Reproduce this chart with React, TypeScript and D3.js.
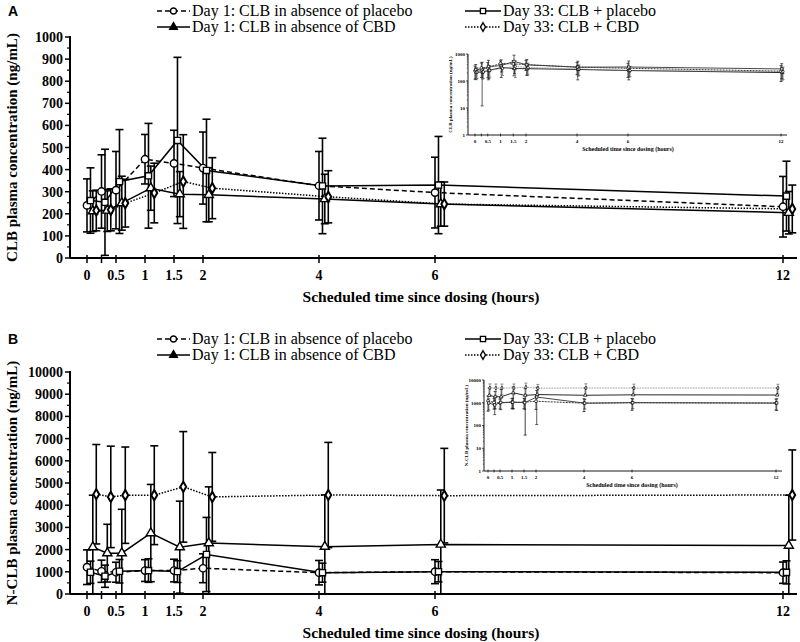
import React from 'react'
import * as d3 from 'd3'

// scheduled sampling times (hours)
const times = [0, 0.25, 0.5, 1, 1.5, 2, 4, 6, 12]
const tickLabels = ['0', '', '0.5', '1', '1.5', '2', '4', '6', '12']
const seriesNames = [
  'Day 1: CLB in absence of placebo',
  'Day 33: CLB + placebo',
  'Day 1: CLB in absence of CBD',
  'Day 33: CLB + CBD',
]
// small horizontal jitter of each series at a time point (hours)
const dodge = [0, 0.06, 0.1, 0.16]

// panel A: CLB (ng/mL), mean and SD
const clbD1Placebo = [238, 301, 307, 447, 428, 407, 327, 296, 232]
const clbD1PlaceboSd = [120, 166, 175, 112, 150, 163, 155, 160, 137]
const clbD33Placebo = [260, 252, 346, 372, 532, 396, 326, 330, 280]
const clbD33PlaceboSd = [148, 240, 235, 237, 376, 232, 216, 220, 158]
const clbD1Cbd = [212, 215, 248, 316, 289, 286, 267, 244, 205]
const clbD1CbdSd = [92, 95, 122, 100, 102, 122, 112, 100, 96]
const clbD33Cbd = [215, 218, 248, 294, 346, 316, 277, 244, 222]
const clbD33CbdSd = [92, 95, 108, 135, 212, 138, 118, 100, 108]

// panel B: N-CLB (ng/mL), mean and SD
const nclbD1Placebo = [1207, 1025, 980, 1056, 1056, 1160, 960, 1005, 960]
const nclbD1PlaceboSd = [780, 500, 450, 490, 510, 650, 550, 540, 480]
const nclbD33Placebo = [980, 800, 1025, 1056, 1010, 1780, 960, 1005, 975]
const nclbD33PlaceboSd = [500, 500, 530, 530, 490, 1670, 430, 460, 520]
const nclbD1Cbd = [2110, 1840, 1840, 2745, 2110, 2293, 2131, 2230, 2180]
const nclbD1CbdSd = [2340, 1300, 1975, 2190, 2072, 2533, 2330, 2455, 2270]
const nclbD33Cbd = [4494, 4374, 4450, 4450, 4826, 4374, 4459, 4430, 4459]
const nclbD33CbdSd = [2240, 2285, 2170, 2225, 2490, 2000, 2370, 2130, 2030]

const clbMeans = [clbD1Placebo, clbD33Placebo, clbD1Cbd, clbD33Cbd]
const clbSds = [clbD1PlaceboSd, clbD33PlaceboSd, clbD1CbdSd, clbD33CbdSd]
const nclbMeans = [nclbD1Placebo, nclbD33Placebo, nclbD1Cbd, nclbD33Cbd]
const nclbSds = [nclbD1PlaceboSd, nclbD33PlaceboSd, nclbD1CbdSd, nclbD33CbdSd]

const dashes = ['5,3', null, null, '1.5,1.5']
const symbols = [d3.symbolCircle, d3.symbolSquare, d3.symbolTriangle, d3.symbolDiamond]
const symbolSizes = [42, 38, 36, 30]
const insetColors = ['#222', '#333', '#111', '#777']

const serif = '"Liberation Serif", "Times New Roman", serif'

function Legend({ y, label }) {
  const cols = [[157, 192], [465, 503]]
  return (
    <g>
      <text x={8} y={y + 5} fontFamily='"Liberation Sans", Arial, sans-serif' fontWeight="bold" fontSize={14}>{label}</text>
      {seriesNames.map((name, si) => {
        const col = cols[si % 2]
        const yy = y + Math.floor(si / 2) * 16
        const sym = d3.symbol().type(symbols[si]).size(symbolSizes[si] * 0.7)()
        return (
          <g key={name}>
            <line x1={col[0]} x2={col[1] - 2} y1={yy} y2={yy} stroke="#000" strokeWidth={1.6}
              strokeDasharray={dashes[si] || undefined} />
            <path d={sym} transform={`translate(${(col[0] + col[1] - 2) / 2},${yy})`}
              fill={si === 2 ? '#000' : '#fff'} stroke="#000" strokeWidth={1.4} />
            <text x={col[1]} y={yy + 5} fontFamily={serif} fontSize={16}>{name}</text>
          </g>
        )
      })}
    </g>
  )
}

function MainPanel({ means, sds, yMax, yStep, yTop, yBottom, title }) {
  const x = d3.scaleLinear().domain([0, 12]).range([87, 783])
  const y = d3.scaleLinear().domain([0, yMax]).range([yBottom, yTop])
  const axisX = 70
  const major = d3.range(0, yMax + 1, yStep)
  const minor = d3.range(yStep / 2, yMax, yStep)
  return (
    <g>
      {/* error bars */}
      {means.map((m, si) => m.map((v, j) => {
        const cx = x(times[j] + dodge[si])
        const lo = Math.max(0, v - sds[si][j])
        const hi = v + sds[si][j]
        return (
          <g key={`e${si}-${j}`} stroke="#000" strokeWidth={1.6}>
            <line x1={cx} x2={cx} y1={y(lo)} y2={y(hi)} />
            <line x1={cx - 4} x2={cx + 4} y1={y(hi)} y2={y(hi)} />
            {lo > 0 && <line x1={cx - 4} x2={cx + 4} y1={y(lo)} y2={y(lo)} />}
          </g>
        )
      }))}
      {/* lines */}
      {means.map((m, si) => {
        const line = d3.line().x((d, j) => x(times[j] + dodge[si])).y(d => y(d))
        return <path key={`l${si}`} d={line(m)} fill="none" stroke="#000" strokeWidth={1.5}
          strokeDasharray={dashes[si] || undefined} />
      })}
      {/* markers */}
      {means.map((m, si) => m.map((v, j) => (
        <path key={`m${si}-${j}`} d={d3.symbol().type(symbols[si]).size(symbolSizes[si])()}
          transform={`translate(${x(times[j] + dodge[si])},${y(v)})`}
          fill="#fff" stroke="#000" strokeWidth={si === 3 ? 2 : 1.4} />
      )))}
      {/* y axis */}
      <line x1={axisX} x2={axisX} y1={yTop - 1} y2={yBottom} stroke="#000" strokeWidth={2} />
      {major.map(t => (
        <g key={`yt${t}`}>
          <line x1={axisX - 5} x2={axisX} y1={y(t)} y2={y(t)} stroke="#000" strokeWidth={1.5} />
          <text x={63} y={y(t) + 5} textAnchor="end" fontFamily={serif} fontWeight="bold" fontSize={14}>{t}</text>
        </g>
      ))}
      {minor.map(t => (
        <line key={`ym${t}`} x1={axisX - 3} x2={axisX} y1={y(t)} y2={y(t)} stroke="#000" strokeWidth={1.2} />
      ))}
      <text transform={`translate(17,${(yTop + yBottom) / 2}) rotate(-90)`} textAnchor="middle"
        fontFamily={serif} fontWeight="bold" fontSize={15}>{title}</text>
      {/* x axis */}
      <line x1={axisX} x2={797} y1={yBottom} y2={yBottom} stroke="#000" strokeWidth={2} />
      {times.map((t, j) => (
        <g key={`xt${t}`}>
          <line x1={x(t)} x2={x(t)} y1={yBottom - 3} y2={yBottom + 5} stroke="#000" strokeWidth={1.5} />
          <text x={x(t)} y={yBottom + 22} textAnchor="middle" fontFamily={serif} fontWeight="bold" fontSize={14}>{tickLabels[j]}</text>
        </g>
      ))}
      <text x={421} y={yBottom + 44} textAnchor="middle" fontFamily={serif} fontWeight="bold" fontSize={15.5}>
        Scheduled time since dosing (hours)
      </text>
    </g>
  )
}

function Inset({ means, sds, decades, axisX, x0, x12, xEnd, yTop, yBottom, title }) {
  const x = d3.scaleLinear().domain([0, 12]).range([x0, x12])
  const y = d3.scaleLog().domain([1, Math.pow(10, decades)]).range([yBottom, yTop])
  const major = d3.range(0, decades + 1).map(k => Math.pow(10, k))
  const minor = []
  for (let k = 0; k < decades; k++) for (let m = 2; m < 10; m++) minor.push(m * Math.pow(10, k))
  return (
    <g>
      {means.map((m, si) => m.map((v, j) => {
        const cx = x(times[j] + dodge[si] * 0.5)
        const lo = v - sds[si][j]
        const hi = v + sds[si][j]
        return (
          <g key={`ie${si}-${j}`} stroke={insetColors[si]} strokeWidth={0.8}>
            <line x1={cx} x2={cx} y1={y(lo > 0 ? lo : v)} y2={y(hi)} />
            <line x1={cx - 1.5} x2={cx + 1.5} y1={y(hi)} y2={y(hi)} />
            {lo > 0 && <line x1={cx - 1.5} x2={cx + 1.5} y1={y(lo)} y2={y(lo)} />}
          </g>
        )
      }))}
      {means.map((m, si) => {
        const line = d3.line().x((d, j) => x(times[j] + dodge[si] * 0.5)).y(d => y(d))
        return <path key={`il${si}`} d={line(m)} fill="none" stroke={insetColors[si]} strokeWidth={0.9}
          strokeDasharray={si === 0 ? '2,1' : si === 3 ? '0.8,0.8' : undefined} />
      })}
      {means.map((m, si) => m.map((v, j) => (
        <path key={`im${si}-${j}`} d={d3.symbol().type(symbols[si]).size(symbolSizes[si] * 0.15)()}
          transform={`translate(${x(times[j] + dodge[si] * 0.5)},${y(v)})`}
          fill="#fff" stroke="#000" strokeWidth={0.7} />
      )))}
      <line x1={axisX} x2={axisX} y1={yTop} y2={yBottom} stroke="#000" strokeWidth={0.9} />
      {major.map(t => (
        <g key={`iyt${t}`}>
          <line x1={axisX - 2} x2={axisX} y1={y(t)} y2={y(t)} stroke="#000" strokeWidth={0.7} />
          <text x={axisX - 3} y={y(t) + 1.8} textAnchor="end" fontFamily={serif} fontWeight="bold" fontSize={5}>{t}</text>
        </g>
      ))}
      {minor.map(t => (
        <line key={`iym${t}`} x1={axisX - 1.2} x2={axisX} y1={y(t)} y2={y(t)} stroke="#000" strokeWidth={0.5} />
      ))}
      <text transform={`translate(${axisX - 16},${(yTop + yBottom) / 2}) rotate(-90)`} textAnchor="middle"
        fontFamily={serif} fontWeight="bold" fontSize={5}>{title}</text>
      <line x1={axisX} x2={xEnd} y1={yBottom} y2={yBottom} stroke="#000" strokeWidth={0.9} />
      {times.map((t, j) => (
        <g key={`ixt${t}`}>
          <line x1={x(t)} x2={x(t)} y1={yBottom - 1.5} y2={yBottom + 1.5} stroke="#000" strokeWidth={0.7} />
          <text x={x(t)} y={yBottom + 8} textAnchor="middle" fontFamily={serif} fontWeight="bold" fontSize={5}>{tickLabels[j]}</text>
        </g>
      ))}
      <text x={(x0 + x12) / 2} y={yBottom + 16} textAnchor="middle" fontFamily={serif} fontWeight="bold" fontSize={6}>
        Scheduled time since dosing (hours)
      </text>
    </g>
  )
}

export default function App() {
  return (
    <svg width={800} height={642} style={{ position: 'absolute', left: 0, top: 0, background: '#fff' }}>
      <rect width={800} height={642} fill="#fff" />
      <Legend y={11} label="A" />
      <MainPanel means={clbMeans} sds={clbSds} yMax={1000} yStep={100} yTop={37} yBottom={258}
        title="CLB plasma concentration (ng/mL)" />
      <Inset means={clbMeans} sds={clbSds} decades={3} axisX={468} x0={475} x12={781} xEnd={787}
        yTop={54} yBottom={135} title="CLB plasma concentration (ng/mL)" />
      <Legend y={339} label="B" />
      <MainPanel means={nclbMeans} sds={nclbSds} yMax={10000} yStep={1000} yTop={372} yBottom={594}
        title="N-CLB plasma concentration (ng/mL)" />
      <Inset means={nclbMeans} sds={nclbSds} decades={4} axisX={484} x0={488} x12={776} xEnd={782}
        yTop={380} yBottom={471} title="N-CLB plasma concentration (ng/mL)" />
    </svg>
  )
}
